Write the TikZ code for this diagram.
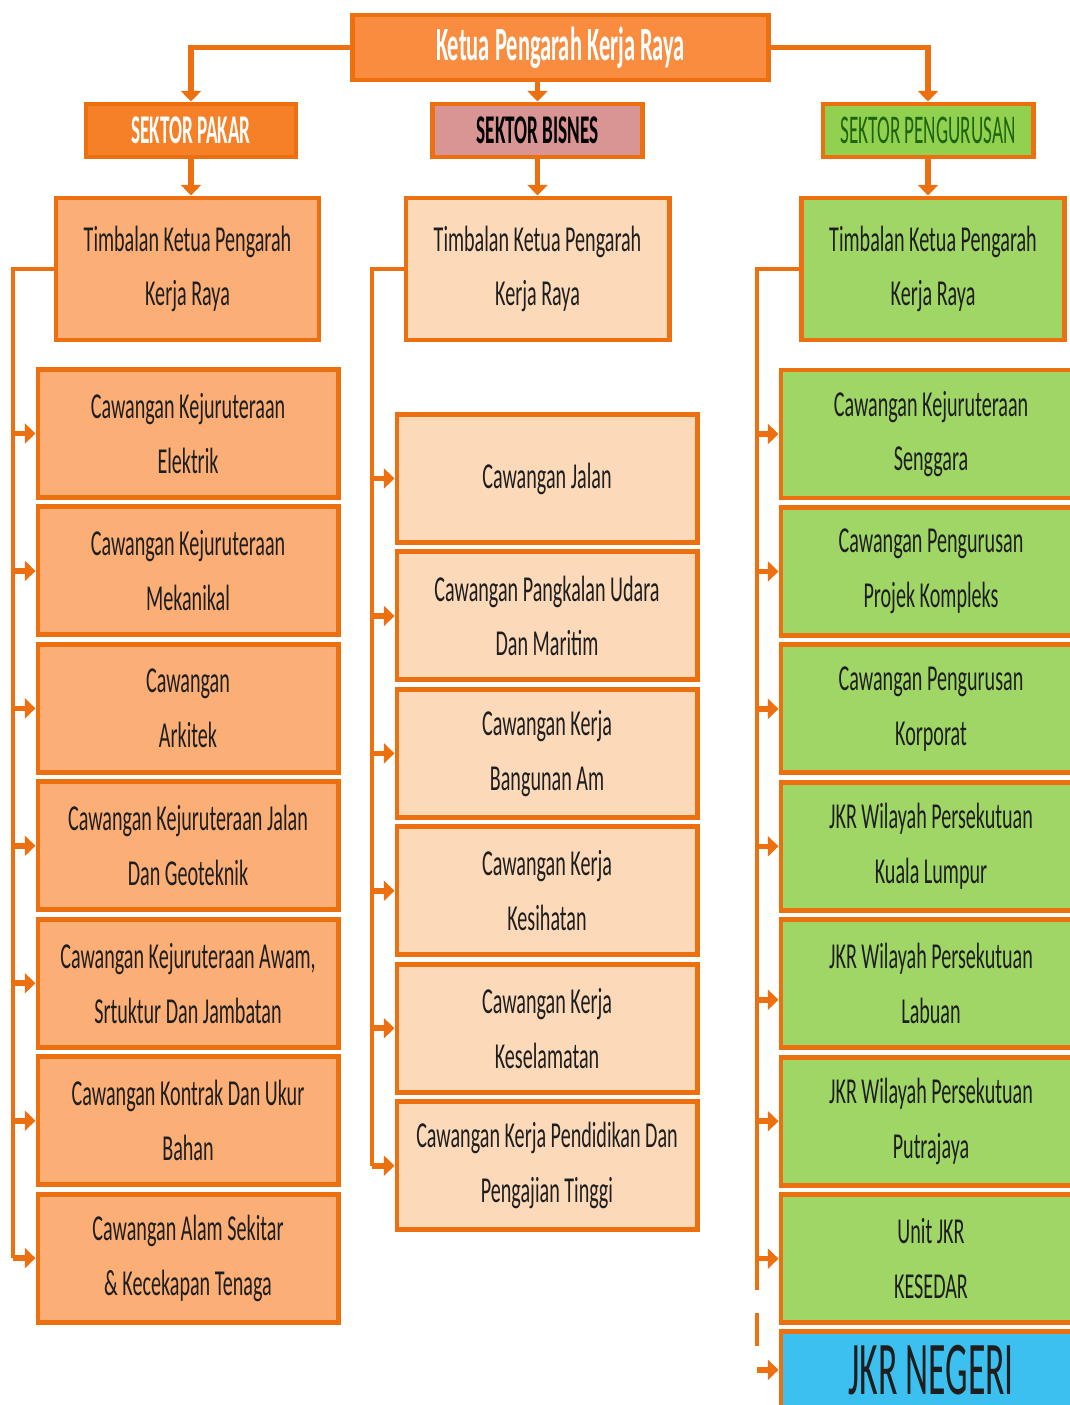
\documentclass[tikz,border=0pt]{standalone}
\usepackage{fontspec}
\setmainfont{Carlito}[FakeStretch=0.55]
\newfontfamily\headfont{Carlito}[FakeStretch=0.47]
\usetikzlibrary{positioning}
\usetikzlibrary{arrows.meta}
\definecolor{myline}{RGB}{236,112,16}
\definecolor{mytop}{RGB}{250,140,64}
\definecolor{mypakar}{RGB}{246,128,40}
\definecolor{mybisnes}{RGB}{217,149,148}
\definecolor{myurus}{RGB}{146,208,80}
\definecolor{myorange}{RGB}{251,174,117}
\definecolor{mypeach}{RGB}{252,217,184}
\definecolor{mygreen}{RGB}{160,214,102}
\definecolor{myblue}{RGB}{60,192,240}
\definecolor{mytext}{RGB}{30,30,30}
\definecolor{mydarkgreen}{RGB}{30,100,12}
\tikzstyle{mynode}=[align=center, draw=myline, line width=3.5pt, inner sep=0pt, text=mytext, font=\fontsize{26}{39}\selectfont]
\tikzstyle{chief}=[mynode, fill=mytop, text=white, minimum width=10.375cm, minimum height=1.625cm, font=\headfont\bfseries\fontsize{34}{36}\selectfont]
\tikzstyle{sector}=[mynode, minimum width=5.25cm, minimum height=1.325cm, font=\headfont\fontsize{29}{30}\selectfont]
\tikzstyle{deputy}=[mynode, minimum width=6.575cm, minimum height=3.55cm]
\tikzstyle{branch}=[mynode, minimum width=7.5cm, minimum height=3.2cm]
\tikzstyle{pakar}=[fill=myorange]
\tikzstyle{bisnes}=[fill=mypeach]
\tikzstyle{urus}=[fill=mygreen]
\tikzstyle{connect}=[myline, line width=3pt]
\tikzstyle{connect arrow}=[-{Triangle[length=7.5pt,width=14pt]}, myline, line width=4pt]

\begin{document}
\begin{tikzpicture}[
    x=0.025cm, y=-0.025cm,
    node distance=3.435cm,
    on grid]
\useasboundingbox (0,0) rectangle (1070,1405);
\clip (0,0) rectangle (1070,1405);

\node[chief] (kp) at (560.5,47.5) {Ketua Pengarah Kerja Raya};

% Sectors
\node[sector, fill=mypakar, text=white, font=\headfont\bfseries\fontsize{29}{30}\selectfont] (spakar) at (191,130.5) {SEKTOR PAKAR};
\node[sector, fill=mybisnes, text=black, font=\headfont\bfseries\fontsize{29}{30}\selectfont] (sbisnes) at (537.5,130.5) {SEKTOR BISNES};
\node[sector, fill=myurus, text=mydarkgreen] (surus) at (928,130.5) {SEKTOR PENGURUSAN};

% Deputies
\node[deputy, pakar] (tpakar) at (187.5,269) {Timbalan Ketua Pengarah\\Kerja Raya};
\node[deputy, bisnes] (tbisnes) at (537.5,269) {Timbalan Ketua Pengarah\\Kerja Raya};
\node[deputy, urus] (turus) at (933,269) {Timbalan Ketua Pengarah\\Kerja Raya};

% Sektor Pakar
\node[branch, pakar] (p1) at (188,433.5) {Cawangan Kejuruteraan\\Elektrik};
\node[branch, pakar] (p2) [below=of p1] {Cawangan Kejuruteraan\\Mekanikal};
\node[branch, pakar] (p3) [below=of p2] {Cawangan\\Arkitek};
\node[branch, pakar] (p4) [below=of p3] {Cawangan Kejuruteraan Jalan\\Dan Geoteknik};
\node[branch, pakar] (p5) [below=of p4] {Cawangan Kejuruteraan Awam,\\Srtuktur Dan Jambatan};
\node[branch, pakar] (p6) [below=of p5] {Cawangan Kontrak Dan Ukur\\Bahan};
\node[branch, pakar] (p7) [below=of p6] {Cawangan Alam Sekitar\\\& Kecekapan Tenaga};

% Sektor Bisnes
\node[branch, bisnes] (b1) at (547,478.5) {Cawangan Jalan};
\node[branch, bisnes] (b2) [below=of b1] {Cawangan Pangkalan Udara\\Dan Maritim};
\node[branch, bisnes] (b3) [below=of b2] {Cawangan Kerja\\Bangunan Am};
\node[branch, bisnes] (b4) [below=of b3] {Cawangan Kerja\\Kesihatan};
\node[branch, bisnes] (b5) [below=of b4] {Cawangan Kerja\\Keselamatan};
\node[branch, bisnes] (b6) [below=of b5] {Cawangan Kerja Pendidikan Dan\\Pengajian Tinggi};

% Sektor Pengurusan
\node[branch, urus] (u1) at (931,434) {Cawangan Kejuruteraan\\Senggara};
\node[branch, urus] (u2) [below=of u1] {Cawangan Pengurusan\\Projek Kompleks};
\node[branch, urus] (u3) [below=of u2] {Cawangan Pengurusan\\Korporat};
\node[branch, urus] (u4) [below=of u3] {JKR Wilayah Persekutuan\\Kuala Lumpur};
\node[branch, urus] (u5) [below=of u4] {JKR Wilayah Persekutuan\\Labuan};
\node[branch, urus] (u6) [below=of u5] {JKR Wilayah Persekutuan\\Putrajaya};
\node[branch, urus] (u7) [below=of u6] {Unit JKR\\KESEDAR};
\node[branch, fill=myblue, minimum height=1.9cm, text depth=0pt, font=\headfont\fontsize{54}{56}\selectfont] (negeri) [below=2.78cm of u7] {JKR NEGERI};

\coordinate (pbus) at (13,0);
\coordinate (bbus) at (372,0);
\coordinate (ubus) at (757,0);
\coordinate (uend) at (757,1290);
\coordinate (ugap) at (757,1346);

\begin{scope}[connect arrow]
    % Chief to sectors
    \draw (kp.west) -| (spakar.north);
    \draw (kp.south -| sbisnes.north) -- (sbisnes.north);
    \draw (kp.east) -| (surus.north);

    % Sectors to deputies
    \draw (spakar.south) -- (spakar.south |- tpakar.north);
    \draw (sbisnes.south) -- (sbisnes.south |- tbisnes.north);
    \draw (surus.south) -- (surus.south |- turus.north);

    % Deputies to branches
    \foreach \i in {1,...,7}
        \draw (pbus |- p\i.west) -- (p\i.west);
    \foreach \i in {1,...,6}
        \draw (bbus |- b\i.west) -- (b\i.west);
    \foreach \i in {1,2,3,4,6,7}
        \draw (ubus |- u\i.west) -- (u\i.west);
    \draw ([yshift=-0.4cm]ubus |- u5.west) -- ([yshift=-0.4cm]u5.west);
    \draw[dash pattern=on 12pt off 4pt] (ubus |- negeri.west) -- (negeri.west);
\end{scope}

\begin{scope}[connect]
    \draw (tpakar.west) -| (pbus |- p7.west);
    \draw (tbisnes.west) -| (bbus |- b6.west);
    \draw (turus.west) -| (uend);
    \draw[dash pattern=on 0pt off 16pt on 100pt] (uend) -- (ugap);
\end{scope}

\end{tikzpicture}
\end{document}
